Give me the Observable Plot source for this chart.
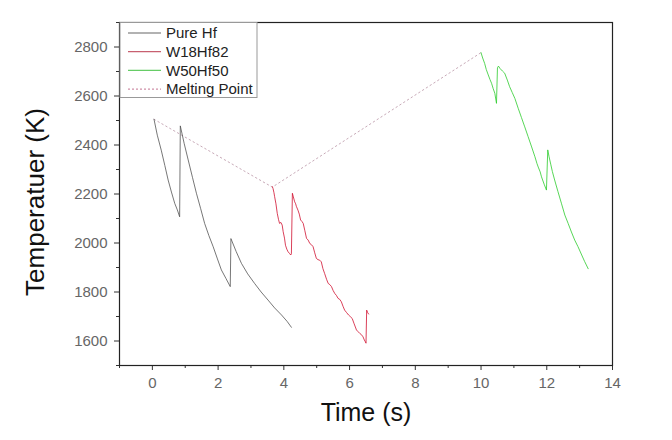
<!DOCTYPE html>
<html>
<head>
<meta charset="utf-8">
<script src="https://cdn.jsdelivr.net/npm/d3@7"></script>
<script src="https://cdn.jsdelivr.net/npm/@observablehq/plot@0.6"></script>
<style>
  html, body { margin: 0; padding: 0; background: #fff; }
  #chart svg { font-family: "Liberation Sans", Arial, sans-serif; }
  g[aria-label="x-axis tick label"], g[aria-label="y-axis tick label"] { fill: #666; }
</style>
</head>
<body>
<div id="chart"></div>
<script>
// ---- data (time s, temperature K) ----
const seriesNames = ["Pure Hf", "W18Hf82", "W50Hf50", "Melting Point"];

const pureHf = [
  [0.05, 2505], [0.15, 2440], [0.27, 2379], [0.38, 2316], [0.48, 2257], [0.58, 2208],
  [0.68, 2162], [0.76, 2135], [0.83, 2107], [0.85, 2478], [0.97, 2405], [1.09, 2339],
  [1.22, 2268], [1.34, 2203], [1.47, 2140], [1.59, 2080], [1.72, 2030], [1.85, 1985],
  [1.98, 1935], [2.10, 1890], [2.24, 1855], [2.37, 1822], [2.39, 2018], [2.55, 1965],
  [2.71, 1917], [2.90, 1874], [3.11, 1835], [3.31, 1800], [3.52, 1767], [3.72, 1735],
  [3.93, 1706], [4.10, 1680], [4.23, 1656]
];

const w18Hf82 = [
  [3.65, 2230], [3.67, 2223], [3.70, 2205], [3.72, 2189], [3.76, 2160], [3.80, 2121],
  [3.84, 2095], [3.87, 2080], [3.91, 2084], [3.95, 2073], [3.98, 2046], [4.02, 2020],
  [4.05, 1991], [4.09, 1975], [4.13, 1964], [4.17, 1958], [4.21, 1951], [4.23, 1956],
  [4.26, 2203], [4.29, 2188], [4.33, 2168], [4.36, 2160], [4.38, 2150], [4.43, 2134],
  [4.47, 2118], [4.51, 2094], [4.55, 2088], [4.59, 2080], [4.64, 2050], [4.69, 2019],
  [4.74, 2012], [4.79, 1998], [4.84, 1993], [4.89, 1985], [4.94, 1960], [4.99, 1937],
  [5.04, 1932], [5.09, 1930], [5.14, 1923], [5.19, 1895], [5.24, 1876], [5.30, 1852],
  [5.35, 1835], [5.40, 1830], [5.45, 1822], [5.50, 1806], [5.55, 1794], [5.60, 1786],
  [5.65, 1774], [5.70, 1770], [5.75, 1760], [5.80, 1742], [5.85, 1726], [5.91, 1716],
  [5.97, 1706], [6.02, 1700], [6.08, 1692], [6.14, 1670], [6.21, 1645], [6.26, 1638],
  [6.31, 1631], [6.36, 1626], [6.41, 1617], [6.45, 1604], [6.48, 1597], [6.50, 1591],
  [6.52, 1726], [6.55, 1716], [6.58, 1710]
];

const w50Hf50 = [
  [10.00, 2777], [10.05, 2755], [10.11, 2733], [10.16, 2708], [10.22, 2686], [10.27, 2668],
  [10.32, 2652], [10.37, 2630], [10.42, 2611], [10.47, 2570], [10.50, 2715], [10.53, 2722],
  [10.58, 2712], [10.65, 2702], [10.72, 2693], [10.80, 2665], [10.87, 2638], [10.95, 2614],
  [11.03, 2590], [11.13, 2550], [11.23, 2512], [11.33, 2474], [11.43, 2435], [11.54, 2392],
  [11.64, 2352], [11.70, 2325], [11.74, 2310], [11.80, 2290], [11.84, 2270], [11.92, 2240],
  [11.99, 2216], [12.03, 2380], [12.07, 2352], [12.12, 2322], [12.17, 2292], [12.24, 2257],
  [12.34, 2210], [12.45, 2160], [12.55, 2114], [12.65, 2080], [12.75, 2045], [12.85, 2012],
  [12.95, 1985], [13.05, 1955], [13.15, 1925], [13.26, 1895]
];

const meltingPoint = [[0.05, 2505], [3.65, 2228], [10.00, 2777]];

const xTicks = [0, 2, 4, 6, 8, 10, 12, 14];
const xMinorTicks = [-1, 1, 3, 5, 7, 9, 11, 13];
const yTicks = [1600, 1800, 2000, 2200, 2400, 2600, 2800];
const yMinorTicks = [1500, 1700, 1900, 2100, 2300, 2500, 2700, 2900];

const colors = ["#4a4a4a", "#d01030", "#2ccc2c", "#c8aab8"];
const legendColors = ["#666666", "#c86070", "#66cc66", "#d090a8"];

const toRows = (arr) => arr.map(([t, T]) => ({t, T}));
const fmt = d3.format("d");

const chart = Plot.plot({
  width: 672,
  height: 440,
  marginLeft: 119,
  marginRight: 60,
  marginTop: 22,
  marginBottom: 75,
  style: {fontFamily: '"Liberation Sans", Arial, sans-serif', fontSize: "15px", background: "#fff"},
  x: {domain: [-1, 14]},
  y: {domain: [1500, 2900]},
  marks: [
    Plot.line(toRows(meltingPoint), {x: "t", y: "T", stroke: colors[3], strokeWidth: 1, strokeDasharray: "1.5,3"}),
    Plot.line(toRows(pureHf), {x: "t", y: "T", stroke: colors[0], strokeWidth: 0.75}),
    Plot.line(toRows(w18Hf82), {x: "t", y: "T", stroke: colors[1], strokeWidth: 0.8}),
    Plot.line(toRows(w50Hf50), {x: "t", y: "T", stroke: colors[2], strokeWidth: 0.8}),
    Plot.axisX(xTicks, {tickSize: 5, tickPadding: 7, tickFormat: fmt, label: null, stroke: "#333", fontSize: 15}),
    Plot.axisX(xMinorTicks, {tickSize: 3, tickFormat: () => "", label: null, stroke: "#333"}),
    Plot.axisY(yTicks, {tickSize: 5, tickPadding: 7, tickFormat: fmt, label: null, stroke: "#333", fontSize: 15}),
    Plot.axisY(yMinorTicks, {tickSize: 3, tickFormat: () => "", label: null, stroke: "#333"}),
    Plot.frame({stroke: "#222", strokeWidth: 1.2}),
    Plot.text(["Time (s)"], {frameAnchor: "bottom", lineAnchor: "middle", dy: 47, fontSize: 25, fill: "#111"}),
    Plot.text(["Temperatuer (K)"], {frameAnchor: "left", textAnchor: "middle", lineAnchor: "middle", dx: -84, dy: 8, rotate: -90, fontSize: 26, fill: "#111"})
  ]
});

// legend inside the top-left corner of the frame
const svg = d3.select(chart);
const lg = svg.append("g").attr("font-family", '"Liberation Sans", Arial, sans-serif').attr("text-anchor", "start");
lg.append("rect").attr("x", 120).attr("y", 22.5).attr("width", 137).attr("height", 75)
  .attr("fill", "#fff").attr("stroke", "#999").attr("stroke-width", 1);
seriesNames.forEach((name, i) => {
  const y = 33 + i * 18.7;
  lg.append("line").attr("x1", 128).attr("x2", 161).attr("y1", y).attr("y2", y)
    .attr("stroke", legendColors[i]).attr("stroke-width", 1.2)
    .attr("stroke-dasharray", i === 3 ? "2,2" : null);
  lg.append("text").attr("x", 166).attr("y", y).attr("dy", "0.35em")
    .attr("text-anchor", "start")
    .attr("font-size", 15).attr("fill", "#222").text(name);
});

document.getElementById("chart").appendChild(chart);
</script>
</body>
</html>
